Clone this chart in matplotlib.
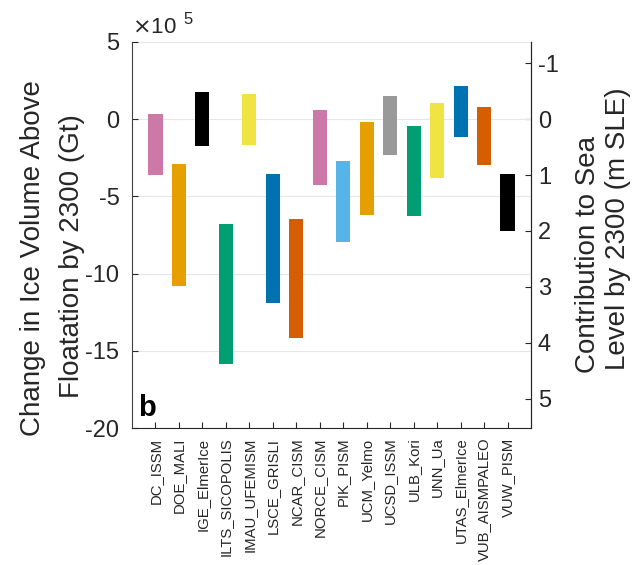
import matplotlib
matplotlib.use("Agg")
import matplotlib.pyplot as plt
from matplotlib.ticker import FuncFormatter

plt.rcParams['font.family'] = ['Liberation Sans', 'DejaVu Sans']

models = ["DC_ISSM", "DOE_MALI", "IGE_ElmerIce", "ILTS_SICOPOLIS", "IMAU_UFEMISM",
          "LSCE_GRISLI", "NCAR_CISM", "NORCE_CISM", "PIK_PISM", "UCM_Yelmo",
          "UCSD_ISSM", "ULB_Kori", "UNN_Ua", "UTAS_ElmerIce", "VUB_AISMPALEO", "VUW_PISM"]
# range of change in ice volume above floatation by 2300, in units of 1e5 Gt
vaf_max = [0.32, -2.92, 1.76, -6.81, 1.63, -3.55, -6.48, 0.59, -2.73, -0.20,
           1.50, -0.46, 1.03, 2.15, 0.79, -3.57]
vaf_min = [-3.63, -10.78, -1.72, -15.87, -1.67, -11.92, -14.19, -4.26, -7.95, -6.20,
           -2.34, -6.27, -3.79, -1.15, -2.99, -7.24]
colors = ["#CC79A7", "#E69F00", "#000000", "#009E73", "#F0E442", "#0072B2", "#D55E00",
          "#CC79A7", "#56B4E9", "#E69F00", "#999999", "#009E73", "#F0E442", "#0072B2",
          "#D55E00", "#000000"]
left_ticks = [5, 0, -5, -10, -15, -20]
right_ticks = [-1, 0, 1, 2, 3, 4, 5]
gt_per_m_sle = 3.62  # 1e5 Gt per metre SLE

W, H = 639, 565
fig = plt.figure(figsize=(W / 100, H / 100), dpi=100)
ax = fig.add_axes([132 / W, 1 - 428 / H, (531 - 132) / W, (428 - 42) / H])

x = list(range(1, len(models) + 1))
heights = [t - b for t, b in zip(vaf_max, vaf_min)]
ax.bar(x, heights, bottom=vaf_min, width=0.6, color=colors, zorder=3)

fmt = FuncFormatter(lambda v, p: f"{v:g}".replace("\u2212", "-"))
ax.set_xlim(0, len(models) + 1)
ax.set_ylim(-20, 5)
ax.set_yticks(left_ticks)
ax.yaxis.set_major_formatter(fmt)
ax.set_xticks(x)
ax.set_xticklabels(models, rotation=90, fontsize=10.7)
ax.grid(axis='y', color='#e6e6e6', linewidth=0.8, zorder=0)

ax.spines['top'].set_visible(False)
ax.spines['left'].set_color('#404040')
ax.spines['bottom'].set_color('#262626')
ax.spines['right'].set_color('#262626')
ax.tick_params(axis='y', direction='in', labelsize=17, length=4, colors='#262626', pad=9)
ax.tick_params(axis='x', direction='in', length=4, colors='#262626', pad=7)

sec = ax.secondary_yaxis('right', functions=(lambda v: -v / gt_per_m_sle,
                                             lambda s: -s * gt_per_m_sle))
sec.set_yticks(right_ticks)
sec.yaxis.set_major_formatter(fmt)
sec.tick_params(direction='in', labelsize=17, length=4, colors='#262626', pad=5)
sec.spines['right'].set_color('#262626')

def label(px, py, s):
    fig.text(px / W, 1 - py / H, s, rotation=90, ha='center', va='center',
             fontsize=20, color='#262626')

label(33, 258, "Change in Ice Volume Above")
label(72, 256, "Floatation by 2300 (Gt)")
label(588, 254, "Contribution to Sea")
label(618, 229, "Level by 2300 (m SLE)")

ax.text(0.0, 1.01, r"$\times$10", transform=ax.transAxes, fontsize=16,
        color='#262626', ha='left', va='bottom')
ax.text(0.13, 1.04, "5", transform=ax.transAxes, fontsize=12,
        color='#262626', ha='left', va='bottom')
ax.text(0.015, 0.015, "b", transform=ax.transAxes, fontsize=21, fontweight='bold',
        color='black', ha='left', va='bottom')

fig.savefig("out.png", dpi=100)
